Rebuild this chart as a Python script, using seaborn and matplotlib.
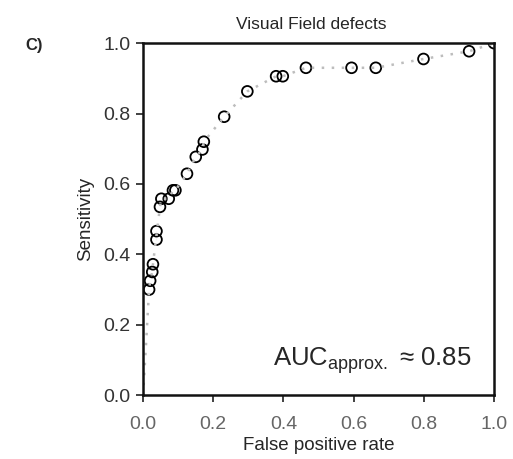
import matplotlib
matplotlib.use("Agg")
import matplotlib.pyplot as plt
import seaborn as sns
import pandas as pd

# ROC points (false positive rate, sensitivity)
fpr = [0.0, 0.017, 0.020, 0.026, 0.028, 0.038, 0.038, 0.048, 0.052, 0.073, 0.085, 0.092,
       0.125, 0.150, 0.169, 0.173, 0.231, 0.297, 0.379, 0.398, 0.464, 0.594, 0.663,
       0.799, 0.929, 1.0]
tpr = [0.0, 0.300, 0.325, 0.350, 0.372, 0.442, 0.466, 0.535, 0.558, 0.558, 0.582, 0.582,
       0.629, 0.677, 0.698, 0.720, 0.791, 0.863, 0.906, 0.906, 0.930, 0.930, 0.930,
       0.955, 0.977, 1.0]
ticks = [0.0, 0.2, 0.4, 0.6, 0.8, 1.0]
auc_text = r"AUC$_{\mathrm{approx.}}$ ≈ 0.85"

sns.set_style("ticks")
plt.rcParams["font.family"] = ["Liberation Sans", "DejaVu Sans"]
plt.rcParams["mathtext.fontset"] = "custom"
plt.rcParams["mathtext.rm"] = "Liberation Sans"

roc = pd.DataFrame({"fpr": fpr, "tpr": tpr})

fig = plt.figure(figsize=(5.13, 4.59), dpi=100)
ax = fig.add_axes([0.279, 0.139, 0.684, 0.767])

# dotted curve starts at the origin, markers only at the thresholds
sns.lineplot(data=roc, x="fpr", y="tpr", sort=False, ax=ax, color="#bdbdbd",
             linewidth=1.8, linestyle=(0, (1, 3)))
sns.scatterplot(data=roc.iloc[1:], x="fpr", y="tpr", ax=ax, s=60, marker="o",
                facecolor="none", edgecolor="black", linewidth=1.3, clip_on=True)

ax.set_xlim(0, 1)
ax.set_ylim(0, 1)
ax.set_xticks(ticks)
ax.set_yticks(ticks)
ax.set_xticklabels([f"{t:.1f}" for t in ticks], fontsize=14, color="#666666")
ax.set_yticklabels([f"{t:.1f}" for t in ticks], fontsize=14, color="#333333")
ax.tick_params(length=5, width=1.3, pad=4, color="#333333")
ax.tick_params(axis="x", pad=10)
for sp in ax.spines.values():
    sp.set_linewidth(1.8)
    sp.set_color("#111111")

ax.set_xlabel("False positive rate", fontsize=13.5, labelpad=3)
ax.set_ylabel("Sensitivity", fontsize=13.5, labelpad=7)
ax.set_title("Visual Field defects", fontsize=12.5, pad=10, x=0.48)

ax.text(0.37, 0.083, auc_text, fontsize=18.5, ha="left", va="baseline")
fig.text(0.05, 0.90, "C)", fontsize=12, fontweight="bold", ha="left", va="center")

fig.savefig("out.png", dpi=100)
